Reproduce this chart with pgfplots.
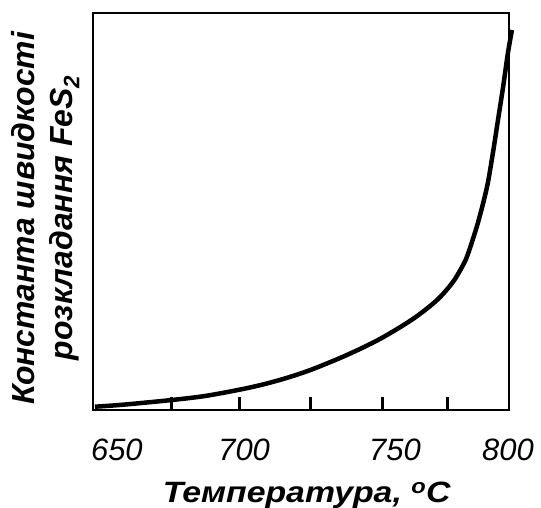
\documentclass[border=0pt]{standalone}
\usepackage{pgfplots}
\pgfplotsset{compat=1.18}
\usepackage{fontspec}
\setmainfont{Liberation Sans}
\newfontfamily\widefont[FakeStretch=1.15]{Liberation Sans}
\begin{document}
\begin{tikzpicture}
\begin{axis}[
  scale only axis,
  width=416bp, height=397bp,
  xmin=645, xmax=800, ymin=0, ymax=397,
  axis line style={line width=1.6bp},
  clip=false,
  ytick=\empty,
  xtick={674.4,699.4,726.2,752.7,776.9},
  xticklabels={},
  tick align=inside,
  major tick length=13bp,
  tick style={line width=3bp, black},
  xtick pos=bottom,
  extra x ticks={653.9,701.3,757.5,799.6},
  extra x tick labels={650,700,750,800},
  extra x tick style={major tick length=0pt, tick style={draw=none}},
  xticklabel style={font=\fontsize{31}{36}\selectfont\itshape, anchor=base, yshift=-50bp},
  /pgf/number format/assume math mode=true,
  xlabel={\textbf{\textit{Температура,\ \textsuperscript{o}C}}},
  xlabel style={font=\fontsize{29.5}{36}\selectfont\widefont, at={(rel axis cs:0.5,0)}, anchor=base, yshift=-92bp, xshift=6bp},
  ylabel={\textbf{\textit{Константа швидкості}}\\\textbf{\textit{розкладання FeS\textsubscript{2}}}},
  ylabel style={font=\fontsize{32}{38}\selectfont, align=center, at={(rel axis cs:0,0.484)}, anchor=south, yshift=10bp},
]
\addplot[line width=4.5bp, black, smooth] coordinates {
(645.7,3.3) (656.2,5.3) (674.4,10) (686.7,14) (699.0,20) (708.3,25.5) (717.7,32.5)
(727.0,41) (739.6,55) (751.9,71) (764.2,91) (773.2,110) (779.1,128)
(782.9,145) (784.7,156) (788.4,187) (791.8,223) (794.0,257) (795.9,290)
(797.8,323) (799.6,357) (801.1,380)
};
\end{axis}
\pgfresetboundingbox
\path (current axis.south west) ++(-93bp,-98bp) rectangle ++(541bp,508bp);
\end{tikzpicture}
\end{document}
